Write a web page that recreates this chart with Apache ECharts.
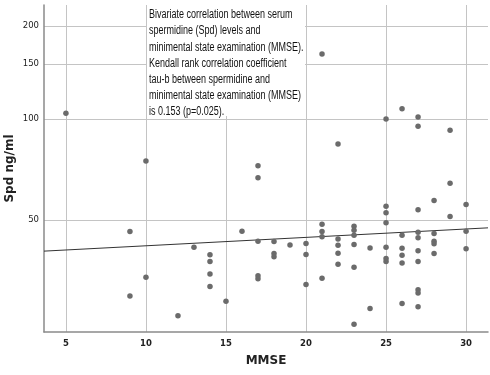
<!DOCTYPE html>
<html>
<head>
<meta charset="utf-8">
<script src="https://cdn.jsdelivr.net/npm/echarts@6/dist/echarts.min.js"></script>
<style>html,body{margin:0;padding:0;background:#fff}#c{width:490px;height:375px}</style>
</head>
<body>
<div id="c"></div>
<script>
// MMSE score of each subject
const mmse = [5,
  9, 9,
  10, 10,
  12,
  13,
  14, 14, 14, 14,
  15,
  16,
  17, 17, 17, 17, 17,
  18, 18, 18,
  19,
  20, 20, 20,
  21, 21, 21, 21, 21,
  22, 22, 22, 22, 22,
  23, 23, 23, 23, 23, 23,
  24, 24,
  25, 25, 25, 25, 25, 25, 25,
  26, 26, 26, 26, 26, 26,
  27, 27, 27, 27, 27, 27, 27, 27, 27, 27,
  28, 28, 28, 28, 28,
  29, 29, 29,
  30, 30, 30];
// serum spermidine (ng/ml) of each subject
const spd = [104.1,
  46.4, 31.7,
  74.2, 35.2,
  28.5,
  42.1,
  40.2, 38.6, 35.9, 33.4,
  30.8,
  46.5,
  71.7, 66.1, 43.7, 35.5, 34.9,
  43.6, 40.5, 39.7,
  42.7,
  43.1, 40.3, 33.8,
  161.6, 48.6, 46.4, 44.9, 35.0,
  83.5, 44.3, 42.6, 40.6, 38.0,
  48.0, 46.8, 45.3, 42.8, 37.3, 27.3,
  41.9, 29.6,
  100.0, 54.6, 52.3, 49.1, 42.1, 39.3, 38.6,
  107.7, 45.3, 41.8, 40.1, 38.3, 30.4,
  101.4, 94.9, 53.4, 46.2, 44.6, 41.2, 38.6, 32.8, 32.2, 29.9,
  56.7, 45.8, 43.7, 43.0, 40.5,
  92.2, 63.7, 51.1,
  55.2, 46.5, 41.7];
// fit line (end points at the axis limits)
const fitX = [3.63, 31.37];
const fitY = [41.1, 47.5];
// axis ticks and ranges
const xTicks = [5, 10, 15, 20, 25, 30];
const yTicks = [50, 100, 150, 200];
const xRange = [3.63, 31.37];
const yRange = [26.24, 234.7];
const noteLines = [
  'Bivariate correlation between serum',
  'spermidine (Spd) levels and',
  'minimental state examination (MMSE).',
  'Kendall rank correlation coefficient',
  'tau-b between spermidine and',
  'minimental state examination (MMSE)',
  'is 0.153 (p=0.025).'
];

// transformed (compressive) vertical scale of the original plot
const OFF = 10;
const fwd = v => Math.log(v - OFF);
const inv = t => Math.exp(t) + OFF;

const chart = echarts.init(document.getElementById('c'), null, {renderer: 'canvas'});
const pts = mmse.map((x, i) => [x, fwd(spd[i])]);
const fit = fitX.map((x, i) => [x, fwd(fitY[i])]);

chart.setOption({
  animation: false,
  backgroundColor: '#fff',
  grid: {left: 44, top: 5, right: 2, bottom: 43, containLabel: false, outerBoundsMode: 'none'},
  xAxis: {
    type: 'value', min: xRange[0], max: xRange[1],
    name: 'MMSE', nameLocation: 'middle', nameGap: 23, nameMoveOverlap: false,
    nameTextStyle: {fontFamily: 'DejaVu Sans', fontWeight: 'bold', fontSize: 12, color: '#222'},
    axisLine: {show: true, onZero: false, lineStyle: {color: '#8a8a8a', width: 1.5}},
    axisTick: {show: false, customValues: xTicks},
    axisLabel: {customValues: xTicks, margin: 7, fontFamily: 'DejaVu Sans', fontSize: 8.5, color: '#222', fontWeight: 'bold'},
    splitLine: {show: true, lineStyle: {color: '#c4c4c4', width: 1}}
  },
  yAxis: {
    type: 'value', min: fwd(yRange[0]), max: fwd(yRange[1]),
    name: 'Spd ng/ml', nameLocation: 'middle', nameGap: 28, nameRotate: 90, nameMoveOverlap: false,
    nameTextStyle: {fontFamily: 'DejaVu Sans', fontWeight: 'bold', fontSize: 12, color: '#222'},
    axisLine: {show: true, onZero: false, lineStyle: {color: '#8a8a8a', width: 1.5}},
    axisTick: {show: false, customValues: yTicks.map(fwd)},
    axisLabel: {customValues: yTicks.map(fwd), margin: 5, fontFamily: 'DejaVu Sans', fontSize: 8.5, color: '#222',
      formatter: v => String(Math.round(inv(v)))},
    splitLine: {show: true, lineStyle: {color: '#c4c4c4', width: 1}}
  },
  series: [
    {type: 'scatter', data: pts, symbolSize: 5.5, itemStyle: {color: '#6b6b6b', opacity: 1}, z: 3},
    {type: 'line', data: fit, showSymbol: false, symbol: 'none', lineStyle: {color: '#333', width: 1}, z: 2}
  ],
  graphic: [
    {type: 'rect', shape: {x: 147, y: 5, width: 158, height: 111}, style: {fill: '#fff'}, z: 1},
    {type: 'text', x: 149, y: 7, scaleX: 0.75, z: 2,
      style: {text: noteLines.join('\n'), font: '12px "Liberation Sans"', lineHeight: 16.1, fill: '#111'}}
  ]
});
</script>
</body>
</html>
